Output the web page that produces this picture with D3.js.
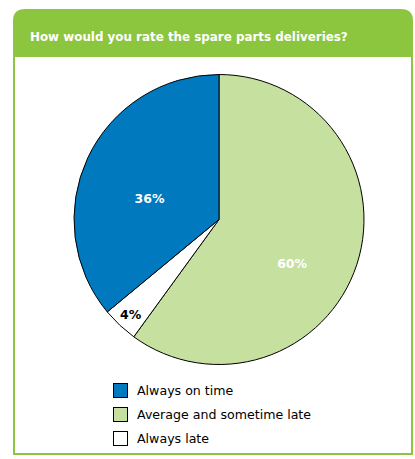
<!DOCTYPE html>
<html><head><meta charset="utf-8">
<script src="https://cdn.jsdelivr.net/npm/d3@7"></script>
<style>
html,body{margin:0;padding:0;background:#fff;}
svg{display:block;}
</style>
</head><body>
<svg id="c" width="415" height="459"></svg>
<script>
const title = "How would you rate the spare parts deliveries?";
const categories = ["Average and sometime late", "Always late", "Always on time"];
const values = [60, 4, 36];
const labels = ["60%", "4%", "36%"];
const colors = ["#c5e09f", "#ffffff", "#0079bf"];
const legendOrder = ["Always on time", "Average and sometime late", "Always late"];

const svg = d3.select("#c");
const font = "'DejaVu Sans', Verdana, sans-serif";
const green = "#8cc63f";

// frame
const fx = 13, fy = 9, fw = 400, fh = 446, hh = 48, rr = 12;
svg.append("path")
  .attr("d", `M${fx},${fy+fh} L${fx},${fy+rr} Q${fx},${fy} ${fx+rr},${fy} L${fx+fw-rr},${fy} Q${fx+fw},${fy} ${fx+fw},${fy+rr} L${fx+fw},${fy+fh} Z`)
  .attr("fill", green);
svg.append("rect").attr("x", fx+2).attr("y", fy+hh).attr("width", fw-4).attr("height", fh-hh-2).attr("fill", "#fff");
svg.append("text").attr("x", 30).attr("y", 41).attr("fill", "#fff")
  .attr("font-family", font).attr("font-weight", "bold").attr("font-size", 11.9)
  .text(title);

// pie
const cx = 219, cy = 219.5, r = 145;
const data = categories.map((c, i) => ({cat: c, value: values[i], label: labels[i], color: colors[i], i}));
const pie = d3.pie().sort(null).value(d => d.value);
const arcs = pie(data);
const arc = d3.arc().innerRadius(0).outerRadius(r);
const labelArc = d3.arc().innerRadius(r * 0.53).outerRadius(r * 0.53);
const smallArc = d3.arc().innerRadius(r * 0.89).outerRadius(r * 0.89);
const labelNudge = [[0, 20], [0, 1], [0, 12]];
const g = svg.append("g").attr("transform", `translate(${cx},${cy})`);
g.selectAll("path").data(arcs).join("path")
  .attr("d", arc).attr("fill", d => d.data.color)
  .attr("stroke", "#000").attr("stroke-width", 1);
g.selectAll("text").data(arcs).join("text")
  .attr("transform", d => {
    const small = (d.endAngle - d.startAngle) < 0.5;
    const p = (small ? smallArc : labelArc).centroid(d);
    const n = labelNudge[d.data.i];
    return `translate(${p[0] + n[0]},${p[1] + n[1]})`;
  })
  .attr("text-anchor", "middle").attr("dy", "0.35em")
  .attr("font-family", font).attr("font-weight", "bold").attr("font-size", 12.5)
  .attr("fill", d => d.data.color === "#ffffff" ? "#000" : "#fff")
  .text(d => d.data.label);

// legend
const lg = svg.append("g").attr("transform", "translate(113,383)");
const colorOf = c => colors[categories.indexOf(c)];
const row = lg.selectAll("g").data(legendOrder).join("g")
  .attr("transform", (d, i) => `translate(0,${i * 24})`);
row.append("rect").attr("x", 0.5).attr("y", 0.5).attr("width", 14).attr("height", 14)
  .attr("fill", d => colorOf(d)).attr("stroke", "#000").attr("stroke-width", 1);
row.append("text").attr("x", 24).attr("y", 12)
  .attr("font-family", font).attr("font-size", 12.6).attr("fill", "#000")
  .text(d => d);
</script>
</body></html>
